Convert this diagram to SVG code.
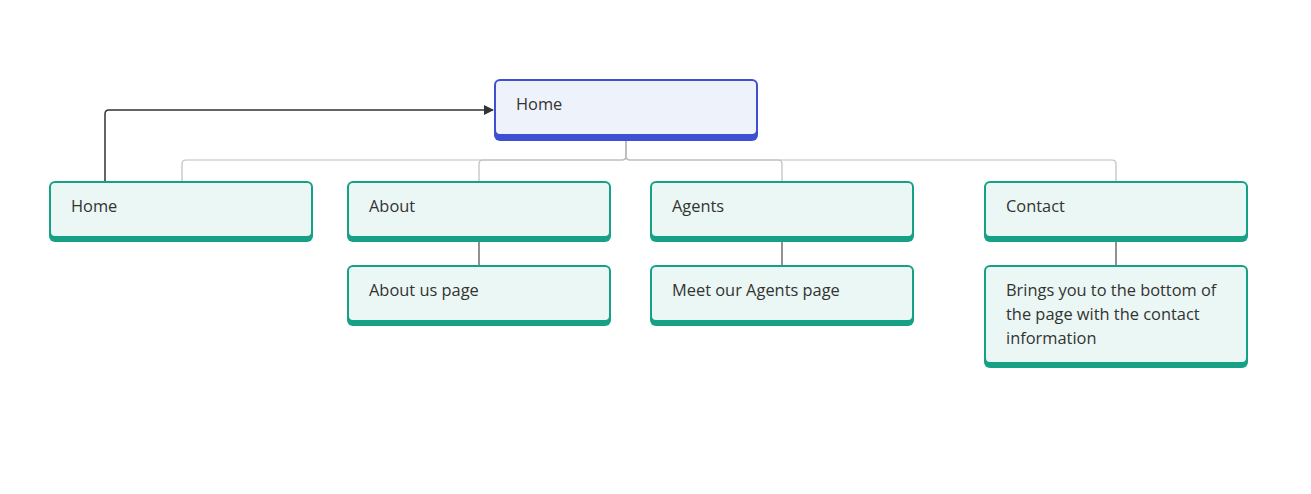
<svg xmlns="http://www.w3.org/2000/svg" width="1311" height="494" viewBox="0 0 1311 494">
<defs>
<style>
.txt{font-family:"Open Sans","Noto Sans","Liberation Sans",sans-serif;font-size:16.4px;fill:#333333}
.gb{fill:#16A085}
.gf{fill:#EBF7F4}
.bb{fill:#3E50D2}
.bf{fill:#EEF2FB}
.bus{fill:none;stroke:#BDBDBD;stroke-width:1.2}
.link{fill:none;stroke:#555555;stroke-width:1.3}
.arrow{fill:none;stroke:#333333;stroke-width:1.5}
</style>
<marker id="ah" viewBox="0 0 10 10" refX="9" refY="5" markerWidth="10" markerHeight="10" markerUnits="userSpaceOnUse" orient="auto">
<path d="M0,0 L10,5 L0,10 Z" fill="#333333"/>
</marker>
</defs>
<rect width="1311" height="494" fill="#ffffff"/>
<g id="connectors">
<path class="bus" d="M626,140 V156 Q626,160 622,160 H186 Q182,160 182,164 V181"/>
<path class="bus" d="M626,140 V156 Q626,160 622,160 H483 Q479,160 479,164 V181"/>
<path class="bus" d="M626,140 V156 Q626,160 630,160 H778 Q782,160 782,164 V181"/>
<path class="bus" d="M626,140 V156 Q626,160 630,160 H1112 Q1116,160 1116,164 V181"/>
<path class="link" d="M479,242 V265"/>
<path class="link" d="M782,242 V265"/>
<path class="link" d="M1116,242 V265"/>
<path class="arrow" d="M105,181 V114 Q105,110 109,110 H493" marker-end="url(#ah)"/>
</g>
<g id="root-home">
<rect class="bb" x="494" y="79" width="264" height="62" rx="6"/>
<rect class="bf" x="496" y="81" width="260" height="53" rx="4"/>
<text class="txt" x="516" y="110">Home</text>
</g>
<g id="home">
<rect class="gb" x="49" y="181" width="264" height="61" rx="6"/>
<rect class="gf" x="51" y="183" width="260" height="53" rx="4"/>
<text class="txt" x="71" y="212">Home</text>
</g>
<g id="about">
<rect class="gb" x="347" y="181" width="264" height="61" rx="6"/>
<rect class="gf" x="349" y="183" width="260" height="53" rx="4"/>
<text class="txt" x="369" y="212">About</text>
</g>
<g id="agents">
<rect class="gb" x="650" y="181" width="264" height="61" rx="6"/>
<rect class="gf" x="652" y="183" width="260" height="53" rx="4"/>
<text class="txt" x="672" y="212">Agents</text>
</g>
<g id="contact">
<rect class="gb" x="984" y="181" width="264" height="61" rx="6"/>
<rect class="gf" x="986" y="183" width="260" height="53" rx="4"/>
<text class="txt" x="1006" y="212">Contact</text>
</g>
<g id="about-us-page">
<rect class="gb" x="347" y="265" width="264" height="61" rx="6"/>
<rect class="gf" x="349" y="267" width="260" height="53" rx="4"/>
<text class="txt" x="369" y="296">About us page</text>
</g>
<g id="meet-agents-page">
<rect class="gb" x="650" y="265" width="264" height="61" rx="6"/>
<rect class="gf" x="652" y="267" width="260" height="53" rx="4"/>
<text class="txt" x="672" y="296">Meet our Agents page</text>
</g>
<g id="contact-info">
<rect class="gb" x="984" y="265" width="264" height="103" rx="6"/>
<rect class="gf" x="986" y="267" width="260" height="95" rx="4"/>
<text class="txt" x="1006" y="296">Brings you to the bottom of</text>
<text class="txt" x="1006" y="320">the page with the contact</text>
<text class="txt" x="1006" y="344">information</text>
</g>
</svg>
